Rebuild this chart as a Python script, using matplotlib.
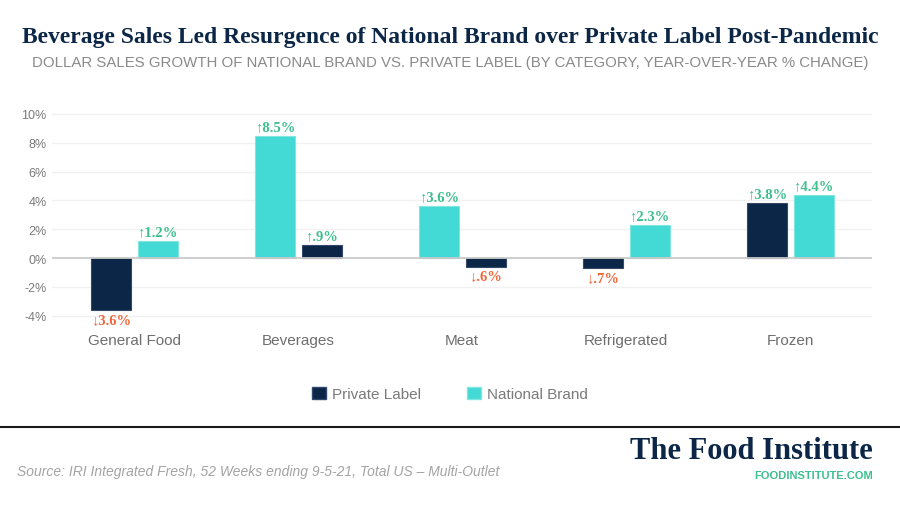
import numpy as np
import matplotlib.pyplot as plt
from matplotlib.patches import Patch

categories = ["General Food", "Beverages", "Meat", "Refrigerated", "Frozen"]
private_label = [-3.6, 0.9, -0.6, -0.7, 3.8]
national_brand = [1.2, 8.5, 3.6, 2.3, 4.4]
# which series sits on the left of each pair (as drawn in the original)
private_first = [True, False, False, True, True]
y_ticks = [-4, -2, 0, 2, 4, 6, 8, 10]

NAVY = "#0b2646"
TEAL = "#43d9d4"
UP = "#3dbf8e"
DOWN = "#f2663a"
GRAY = "#7a7a7a"

SERIF = ["Liberation Serif", "DejaVu Serif"]
SANS = ["Liberation Sans", "DejaVu Sans"]


def fmt(v):
    s = f"{abs(v):.1f}"
    if s.startswith("0"):
        s = s[1:]
    arrow = "\u2191" if v >= 0 else "\u2193"
    return f"{arrow}{s}%"


fig = plt.figure(figsize=(9, 5.06), dpi=100)
fig.patch.set_facecolor("white")

ax = fig.add_axes([0.058, 0.36, 0.911, 0.427])
ax.set_xlim(-0.5, len(categories) - 0.5)
ax.set_ylim(-4.5, 10.5)

width = 0.244
off = 0.143
x = np.arange(len(categories))
for i in range(len(categories)):
    if private_first[i]:
        pos = [(x[i] - off, private_label[i], NAVY, "#34496a"), (x[i] + off, national_brand[i], TEAL, "#7fe6e2")]
    else:
        pos = [(x[i] - off, national_brand[i], TEAL, "#7fe6e2"), (x[i] + off, private_label[i], NAVY, "#34496a")]
    for xp, v, c, ec in pos:
        ax.bar(xp, v, width=width, color=c, edgecolor=ec, linewidth=0.8, zorder=3)
        ax.annotate(fmt(v), (xp, v), xytext=(0, 2 if v >= 0 else -2), textcoords="offset points",
                    ha="center", va="bottom" if v >= 0 else "top",
                    color=UP if v >= 0 else DOWN, fontsize=10.5, fontweight="bold", family=SERIF)

for t in y_ticks:
    ax.axhline(t, color="#c9c9c9" if t == 0 else "#f1f1f1", linewidth=1.3 if t == 0 else 1, zorder=1 if t else 4)

ax.set_yticks(y_ticks)
ax.set_yticklabels([f"{t}%" for t in y_ticks], color=GRAY, fontsize=9, family=SANS)
ax.set_xticks(x)
ax.set_xticklabels(categories, color="#6e6e6e", fontsize=11, family=SANS)
ax.tick_params(axis="both", length=0)
ax.tick_params(axis="x", pad=7)
ax.tick_params(axis="y", pad=4)
for s in ax.spines.values():
    s.set_visible(False)

handles = [Patch(facecolor=NAVY, edgecolor="#34496a", label="Private Label"),
           Patch(facecolor=TEAL, edgecolor="#7fe6e2", label="National Brand")]
leg = fig.legend(handles=handles, loc="center", bbox_to_anchor=(0.5, 1 - 395 / 506), ncol=2, frameon=False,
                 handlelength=0.9, handleheight=0.9, handletextpad=0.4, columnspacing=3,
                 prop={"family": SANS, "size": 11})
for t in leg.get_texts():
    t.set_color(GRAY)

fig.text(0.5, 1 - 37 / 506, "Beverage Sales Led Resurgence of National Brand over Private Label Post-Pandemic",
         ha="center", va="center", fontsize=17, fontweight="bold", color=NAVY, family=SERIF)
fig.text(0.5, 1 - 63 / 506, "DOLLAR SALES GROWTH OF NATIONAL BRAND VS. PRIVATE LABEL (BY CATEGORY, YEAR-OVER-YEAR % CHANGE)",
         ha="center", va="center", fontsize=10.8, color="#8a8a8a", family=SANS)

fig.add_artist(plt.Line2D([0, 1], [1 - 428 / 506] * 2, color="#1a1a1a", linewidth=1.5))

fig.text(17 / 900, 1 - 472 / 506, "Source: IRI Integrated Fresh, 52 Weeks ending 9-5-21, Total US \u2013 Multi-Outlet",
         ha="left", va="center", fontsize=10, style="italic", color="#a3a3a3", family=SANS)
fig.text(873 / 900, 1 - 452 / 506, "The Food Institute", ha="right", va="center",
         fontsize=22, fontweight="bold", color=NAVY, family=SERIF)
fig.text(873 / 900, 1 - 476 / 506, "FOODINSTITUTE.COM", ha="right", va="center",
         fontsize=8, fontweight="bold", color=UP, family=SANS)

fig.savefig("out.png", dpi=100, facecolor="white")
